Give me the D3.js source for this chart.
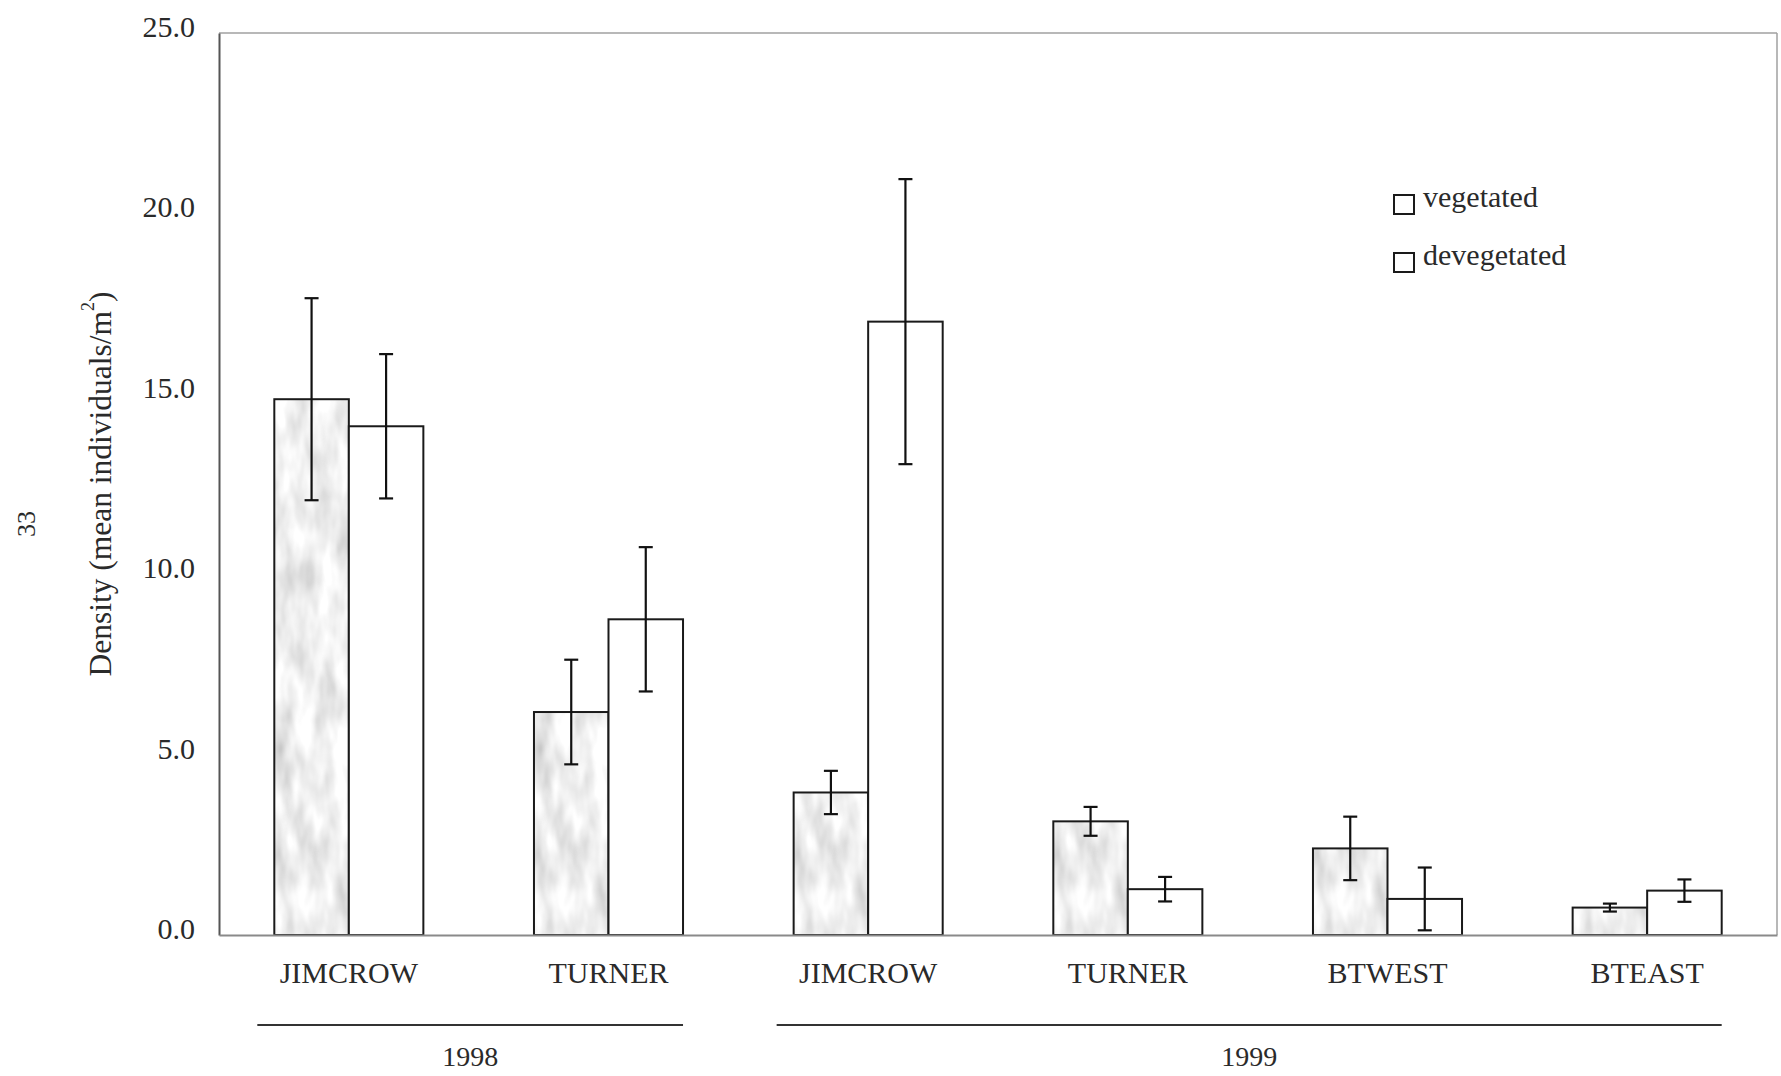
<!DOCTYPE html>
<html>
<head>
<meta charset="utf-8">
<script src="https://cdn.jsdelivr.net/npm/d3@7"></script>
<style>
  html, body { margin: 0; padding: 0; background: #fff; }
  svg { display: block; }
  text { font-family: "Liberation Serif", "Times New Roman", serif; fill: #2a2a2a; }
</style>
</head>
<body>
<svg id="chart" width="1781" height="1076"></svg>
<script>
// Sites sampled in each year (ids keep repeated site names distinct)
const siteIds   = ["j98", "t98", "j99", "t99", "bw99", "be99"];
const siteNames = ["JIMCROW", "TURNER", "JIMCROW", "TURNER", "BTWEST", "BTEAST"];
const siteYears = ["1998", "1998", "1999", "1999", "1999", "1999"];
const yearLabels = ["1998", "1999"];

// Mean density (individuals/m²) and standard error per treatment
const vegetated     = [14.85, 6.18, 3.95, 3.15, 2.40, 0.76];
const vegetatedSE   = [2.80, 1.45, 0.60, 0.40, 0.88, 0.11];
const devegetated   = [14.10, 8.75, 17.00, 1.27, 1.00, 1.23];
const devegetatedSE = [2.00, 2.00, 3.95, 0.34, 0.87, 0.31];

const seriesNames = ["vegetated", "devegetated"];
const yTicks = [0, 5, 10, 15, 20, 25];

const svg = d3.select("#chart");
const plotLeft = 219, plotRight = 1777, plotTop = 33, plotBottom = 935;

// Mottled grey fill for the vegetated bars
const defs = svg.append("defs");
const mottle = defs.append("filter").attr("id", "mottle")
  .attr("x", 0).attr("y", 0).attr("width", 1).attr("height", 1);
mottle.append("feTurbulence")
  .attr("type", "fractalNoise").attr("baseFrequency", "0.05 0.018")
  .attr("numOctaves", 3).attr("seed", 7).attr("result", "noise");
mottle.append("feColorMatrix").attr("in", "noise").attr("type", "matrix")
  .attr("values", "0.7 0 0 0 0.52  0.7 0 0 0 0.52  0.7 0 0 0 0.52  0 0 0 0 1")
  .attr("result", "grey");
mottle.append("feComposite").attr("in", "grey").attr("in2", "SourceGraphic")
  .attr("operator", "in");

const x = d3.scaleBand()
  .domain(siteIds)
  .range([plotLeft, plotRight])
  .paddingInner(0.426)
  .paddingOuter(0.213);

const xs = d3.scaleBand()
  .domain(seriesNames)
  .range([0, x.bandwidth()]);

const y = d3.scaleLinear().domain([0, 25]).range([plotBottom, plotTop]);

const rows = siteIds.map((id, i) => ({
  id, name: siteNames[i], year: siteYears[i],
  values: [
    { key: "vegetated", v: vegetated[i], se: vegetatedSE[i] },
    { key: "devegetated", v: devegetated[i], se: devegetatedSE[i] }
  ]
}));

// Plot frame (top and right edges)
svg.append("line")
  .attr("x1", plotLeft).attr("x2", plotRight).attr("y1", y(25)).attr("y2", y(25))
  .attr("stroke", "#a0a0a0").attr("stroke-width", 1.5);
svg.append("line")
  .attr("x1", plotRight).attr("x2", plotRight).attr("y1", y(25)).attr("y2", y(0))
  .attr("stroke", "#a0a0a0").attr("stroke-width", 1.5);

// Y axis
const yAxis = svg.append("g")
  .attr("transform", `translate(${plotLeft},0)`)
  .call(d3.axisLeft(y).tickValues(yTicks).tickSize(0).tickPadding(24)
    .tickFormat(d3.format(".1f")));
yAxis.select(".domain").attr("stroke", "#555").attr("stroke-width", 2);
yAxis.selectAll("text")
  .attr("font-size", 30).attr("dy", 0).attr("y", -7)
  .attr("dominant-baseline", "central")
  .style("font-family", "'Liberation Serif', serif").attr("fill", "#2a2a2a");

// Bars
const groups = svg.append("g").selectAll("g")
  .data(rows).join("g")
  .attr("transform", d => `translate(${x(d.id)},0)`);

groups.selectAll("rect.fill")
  .data(d => d.values.filter(v => v.key === "vegetated")).join("rect")
  .attr("class", "fill")
  .attr("x", d => xs(d.key))
  .attr("y", d => y(d.v))
  .attr("width", xs.bandwidth())
  .attr("height", d => y(0) - y(d.v))
  .attr("fill", "#000")
  .attr("filter", "url(#mottle)");

groups.selectAll("rect.bar")
  .data(d => d.values).join("rect")
  .attr("class", "bar")
  .attr("x", d => xs(d.key))
  .attr("y", d => y(d.v))
  .attr("width", xs.bandwidth())
  .attr("height", d => y(0) - y(d.v))
  .attr("fill", d => d.key === "vegetated" ? "none" : "#fff")
  .attr("stroke", "#1a1a1a")
  .attr("stroke-width", 2);

// Error bars
const cap = 7;
const eb = groups.selectAll("g.err")
  .data(d => d.values).join("g").attr("class", "err")
  .attr("stroke", "#111").attr("stroke-width", 2.2);
eb.append("line")
  .attr("x1", d => xs(d.key) + xs.bandwidth() / 2)
  .attr("x2", d => xs(d.key) + xs.bandwidth() / 2)
  .attr("y1", d => y(d.v + d.se)).attr("y2", d => y(d.v - d.se));
eb.append("line")
  .attr("x1", d => xs(d.key) + xs.bandwidth() / 2 - cap)
  .attr("x2", d => xs(d.key) + xs.bandwidth() / 2 + cap)
  .attr("y1", d => y(d.v + d.se)).attr("y2", d => y(d.v + d.se));
eb.append("line")
  .attr("x1", d => xs(d.key) + xs.bandwidth() / 2 - cap)
  .attr("x2", d => xs(d.key) + xs.bandwidth() / 2 + cap)
  .attr("y1", d => y(d.v - d.se)).attr("y2", d => y(d.v - d.se));

// X axis (baseline and site names)
const xAxis = svg.append("g")
  .attr("transform", `translate(0,${plotBottom})`)
  .call(d3.axisBottom(x).tickSize(0).tickPadding(30)
    .tickFormat((d, i) => siteNames[i]));
xAxis.select(".domain").attr("stroke", "#8a8a8a").attr("stroke-width", 2);
xAxis.selectAll("text")
  .attr("font-size", 30).attr("dy", 0).attr("y", 48)
  .style("font-family", "'Liberation Serif', serif").attr("fill", "#2a2a2a");

// Year brackets under the site names
yearLabels.forEach(yr => {
  const ids = siteIds.filter((id, i) => siteYears[i] === yr);
  const x0 = x(ids[0]) - 17;
  const x1 = x(ids[ids.length - 1]) + x.bandwidth();
  svg.append("line")
    .attr("x1", x0).attr("x2", x1).attr("y1", 1025).attr("y2", 1025)
    .attr("stroke", "#333").attr("stroke-width", 2);
  svg.append("text")
    .attr("x", (x0 + x1) / 2).attr("y", 1066)
    .attr("text-anchor", "middle").attr("font-size", 28)
    .text(yr);
});

// Y axis title
const title = svg.append("text")
  .attr("transform", "translate(100,484) rotate(-90)")
  .attr("text-anchor", "middle").attr("dominant-baseline", "central")
  .attr("font-size", 31.5);
title.append("tspan").text("Density (mean individuals/m");
title.append("tspan").attr("font-size", 18).attr("dy", -12).text("2");
title.append("tspan").attr("dy", 12).text(")");

// Page number in the margin
svg.append("text")
  .attr("transform", "translate(26,524) rotate(-90)")
  .attr("text-anchor", "middle").attr("dominant-baseline", "central")
  .attr("font-size", 26).attr("fill", "#444")
  .text("33");

// Legend
const legend = svg.append("g").attr("transform", "translate(1394,195)");
const li = legend.selectAll("g").data(seriesNames).join("g")
  .attr("transform", (d, i) => `translate(0,${i * 58})`);
li.append("rect")
  .attr("width", 20).attr("height", 19)
  .attr("fill", "#fff").attr("stroke", "#1a1a1a").attr("stroke-width", 2);
li.append("text")
  .attr("x", 29).attr("y", 12)
  .attr("font-size", 30)
  .text(d => d);
</script>
</body>
</html>
